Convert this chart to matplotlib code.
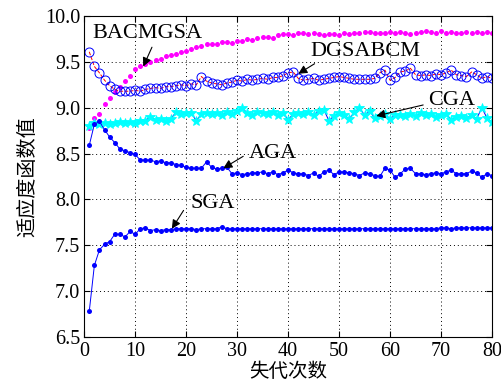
import numpy as np
import matplotlib
matplotlib.use("Agg")
import matplotlib.pyplot as plt

plt.rcParams['font.family'] = ['Liberation Serif', 'Noto Sans CJK SC']

# générations
gen = np.arange(1, 81)

bacmgsa = [8.78, 8.89, 8.93, 9.04, 9.11, 9.17, 9.23, 9.29, 9.35, 9.42,
           9.45, 9.48, 9.50, 9.52, 9.53, 9.56, 9.58, 9.59, 9.61, 9.62,
           9.64, 9.66, 9.67, 9.69, 9.70, 9.70, 9.72, 9.72, 9.71, 9.73,
           9.73, 9.75, 9.74, 9.76, 9.77, 9.77, 9.76, 9.79, 9.80, 9.80,
           9.79, 9.81, 9.81, 9.80, 9.81, 9.80, 9.79, 9.80, 9.80, 9.79,
           9.82, 9.80, 9.82, 9.82, 9.83, 9.83, 9.82, 9.81, 9.82, 9.83,
           9.81, 9.83, 9.82, 9.80, 9.82, 9.83, 9.84, 9.83, 9.82, 9.84,
           9.82, 9.83, 9.81, 9.82, 9.83, 9.81, 9.83, 9.82, 9.83, 9.82]

dgsabcm = [9.61, 9.45, 9.38, 9.30, 9.24, 9.20, 9.18, 9.18, 9.18, 9.19,
           9.18, 9.20, 9.21, 9.22, 9.21, 9.23, 9.23, 9.24, 9.25, 9.24,
           9.26, 9.25, 9.34, 9.29, 9.27, 9.26, 9.25, 9.27, 9.28, 9.30,
           9.29, 9.31, 9.30, 9.31, 9.32, 9.31, 9.33, 9.33, 9.35, 9.38,
           9.39, 9.32, 9.30, 9.31, 9.32, 9.30, 9.31, 9.32, 9.33, 9.34,
           9.33, 9.32, 9.31, 9.31, 9.31, 9.31, 9.32, 9.38, 9.41, 9.30,
           9.33, 9.39, 9.40, 9.43, 9.36, 9.35, 9.36, 9.35, 9.37, 9.36,
           9.38, 9.41, 9.36, 9.35, 9.34, 9.39, 9.36, 9.32, 9.34, 9.32]

cga = [8.80, 8.83, 8.82, 8.83, 8.82, 8.83, 8.84, 8.83, 8.84, 8.83,
       8.85, 8.86, 8.90, 8.87, 8.88, 8.86, 8.88, 8.95, 8.93, 8.94,
       8.94, 8.86, 8.93, 8.94, 8.93, 8.94, 8.92, 8.95, 8.93, 8.96,
       9.00, 8.94, 8.92, 8.95, 8.94, 8.93, 8.95, 8.92, 8.94, 8.87,
       8.93, 8.94, 8.93, 8.95, 8.92, 8.96, 8.98, 8.86, 8.91, 8.94,
       8.92, 8.88, 8.95, 9.00, 8.92, 8.96, 8.89, 8.91, 8.93, 8.88,
       8.92, 8.92, 8.91, 8.93, 8.91, 8.94, 8.92, 8.93, 8.90, 8.92,
       8.93, 8.87, 8.90, 8.91, 8.89, 8.92, 8.88, 9.00, 8.89, 8.84]

aga = [8.59, 8.82, 8.85, 8.76, 8.68, 8.62, 8.55, 8.53, 8.51, 8.49,
       8.43, 8.43, 8.43, 8.41, 8.42, 8.40, 8.40, 8.38, 8.37, 8.35,
       8.34, 8.34, 8.34, 8.41, 8.35, 8.33, 8.34, 8.35, 8.28, 8.29,
       8.27, 8.28, 8.29, 8.29, 8.30, 8.28, 8.30, 8.27, 8.29, 8.32,
       8.29, 8.28, 8.28, 8.26, 8.29, 8.25, 8.30, 8.32, 8.27, 8.30,
       8.30, 8.29, 8.28, 8.26, 8.29, 8.28, 8.26, 8.25, 8.34, 8.32,
       8.24, 8.28, 8.33, 8.34, 8.28, 8.28, 8.27, 8.28, 8.29, 8.28,
       8.30, 8.32, 8.28, 8.28, 8.28, 8.31, 8.29, 8.24, 8.28, 8.26]

sga = [6.78, 7.28, 7.45, 7.51, 7.54, 7.62, 7.62, 7.59, 7.65, 7.62,
       7.68, 7.69, 7.66, 7.67, 7.66, 7.67, 7.67, 7.68, 7.68, 7.68,
       7.68, 7.67, 7.68, 7.68, 7.68, 7.68, 7.70, 7.68, 7.68, 7.68,
       7.68, 7.68, 7.68, 7.68, 7.68, 7.68, 7.68, 7.68, 7.68, 7.68,
       7.68, 7.68, 7.68, 7.68, 7.68, 7.68, 7.68, 7.68, 7.68, 7.68,
       7.68, 7.68, 7.68, 7.68, 7.68, 7.68, 7.68, 7.68, 7.68, 7.68,
       7.68, 7.68, 7.68, 7.68, 7.68, 7.68, 7.68, 7.68, 7.68, 7.69,
       7.69, 7.68, 7.69, 7.69, 7.69, 7.69, 7.69, 7.69, 7.69, 7.69]

fig = plt.figure(figsize=(5.01, 3.82), dpi=100)
ax = fig.add_axes([0.168, 0.118, 0.814, 0.840])

ax.plot(gen, bacmgsa, linestyle='none', marker='o', color='#ff00ff', ms=3.6, mew=0)
ax.plot(gen, dgsabcm, 'r--', lw=0.7, marker='o', mfc='none', mec='#0000ff', ms=6.5, mew=0.7)
ax.plot(gen, cga, '-', color='#0000ff', lw=0.7, marker='*', mfc='#00ffff', mec='#00ffff', ms=7, mew=0.6)
ax.plot(gen, aga, '-', color='#0000ff', lw=0.7, marker='o', ms=3.6, mew=0)
ax.plot(gen, sga, '-', color='#0000ff', lw=0.7, marker='o', ms=3.6, mew=0)

ax.set_xlim(0, 80)
ax.set_ylim(6.5, 10.0)
ax.set_xticks(np.arange(0, 81, 10))
ax.set_yticks(np.arange(6.5, 10.01, 0.5))
ax.set_yticklabels(['%.1f' % v for v in np.arange(6.5, 10.01, 0.5)])
ax.tick_params(direction='in', top=True, right=True, length=4, labelsize=14.5)
ax.tick_params(axis='x', pad=4)
ax.tick_params(axis='y', pad=3)
ax.grid(True, linestyle=(0, (1, 3)), color='black', lw=0.7)

ax.set_xlabel("失代次数", fontsize=14, family=['Noto Sans CJK SC'], labelpad=0)
ax.set_ylabel("适应度函数值", fontsize=14.5, family=['Noto Sans CJK SC'], labelpad=5)

arrow = dict(arrowstyle='-|>', color='black', lw=0.8, mutation_scale=13, shrinkA=0, shrinkB=0)
ax.text(1.6, 9.81, "BACMGSA", fontsize=16, va='center')
ax.annotate('', xy=(11.6, 9.45), xytext=(13.3, 9.66), arrowprops=arrow)
ax.text(44.3, 9.61, "DGSABCM", fontsize=16, va='center')
ax.annotate('', xy=(42.0, 9.37), xytext=(45.2, 9.48), arrowprops=arrow)
ax.text(67.5, 9.08, "CGA", fontsize=16, va='center')
ax.annotate('', xy=(57.3, 8.91), xytext=(66.5, 9.03), arrowprops=arrow)
ax.text(32.2, 8.50, "AGA", fontsize=16, va='center')
ax.annotate('', xy=(27.3, 8.34), xytext=(31.2, 8.47), arrowprops=arrow)
ax.text(20.8, 7.96, "SGA", fontsize=16, va='center')
ax.annotate('', xy=(17.2, 7.68), xytext=(19.5, 7.88), arrowprops=arrow)

fig.savefig("out.png", dpi=100)
